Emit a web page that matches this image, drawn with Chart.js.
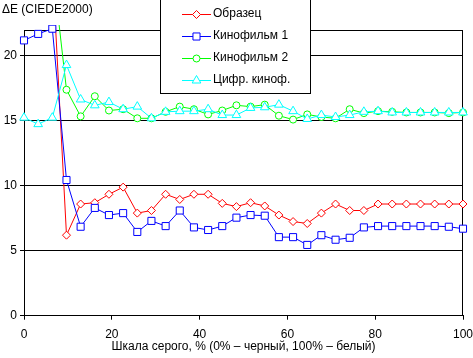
<!DOCTYPE html>
<html>
<head>
<meta charset="utf-8">
<script src="https://cdn.jsdelivr.net/npm/chart.js@4"></script>
<style>
  html, body { margin: 0; padding: 0; background: #fff; }
  canvas { display: block; }
</style>
</head>
<body>
<canvas id="chart" width="473" height="358"></canvas>
<script>
// --- Datos ---
const gray = [0, 3.23, 6.45, 9.68, 12.9, 16.13, 19.35, 22.58, 25.81, 29.03, 32.26, 35.48, 38.71, 41.94, 45.16, 48.39,
              51.61, 54.84, 58.06, 61.29, 64.52, 67.74, 70.97, 74.19, 77.42, 80.65, 83.87, 87.1, 90.32, 93.55, 96.77, 100];
const obrazets = [null, null, 27, 6.2, 8.6, 8.7, 9.35, 9.9, 7.9, 8.1, 9.35, 8.95, 9.35, 9.35, 8.65, 8.4,
                  8.7, 8.45, 7.75, 7.25, 7.1, 7.9, 8.6, 8.1, 8.1, 8.6, 8.6, 8.6, 8.6, 8.6, 8.6, 8.6];
const film1 = [21.2, 21.7, 22.1, 10.45, 6.85, 8.3, 7.75, 7.9, 6.45, 7.3, 6.9, 8.1, 6.8, 6.6, 6.9, 7.55,
               7.75, 7.7, 6.05, 6.05, 5.45, 6.2, 5.85, 6.0, 6.8, 6.9, 6.9, 6.9, 6.9, 6.9, 6.85, 6.7];
const film2 = [null, null, 27, 17.4, 15.35, 16.9, 15.8, 15.9, 15.2, 15.2, 15.7, 16.1, 15.9, 15.5, 15.8, 16.2,
               16.1, 16.25, 15.4, 15.1, 15.5, 15.3, 15.2, 15.9, 15.6, 15.75, 15.7, 15.65, 15.65, 15.65, 15.6, 15.65];
const digital = [15.25, 14.75, 15.25, 19.3, 16.65, 16.2, 16.45, 15.9, 16.1, 15.2, 15.7, 15.75, 15.75, 15.9, 15.45, 15.45,
                 16.0, 16.05, 16.25, 15.75, 15.15, 15.45, 15.3, 15.45, 15.7, 15.75, 15.65, 15.65, 15.65, 15.65, 15.65, 15.65];
const xTicks = [0, 20, 40, 60, 80, 100];
const yTicks = [0, 5, 10, 15, 20];

const FONT = { family: "'Liberation Sans', Arial, sans-serif", size: 12 };
const pts = vals => gray.map((x, i) => ({ x, y: vals[i] }));

const series = [
  { label: "Образец",      vals: obrazets, color: "#ff0000", style: "rectRot",  r: 4,   order: 3 },
  { label: "Кинофильм 1",  vals: film1,    color: "#0000ff", style: "rect",     r: 5,   order: 2 },
  { label: "Кинофильм 2",  vals: film2,    color: "#00ff00", style: "circle",   r: 3.5, order: 1 },
  { label: "Цифр. киноф.", vals: digital,  color: "#00ffff", style: "triangle", r: 5,   order: 0 }
];

// --- Marcador a mano para la leyenda ---
function marker(ctx, s, x, y) {
  ctx.beginPath();
  if (s.style === "rect") {
    const h = s.r * Math.SQRT1_2;
    ctx.rect(x - h, y - h, 2 * h, 2 * h);
  } else if (s.style === "rectRot") {
    ctx.moveTo(x, y - s.r); ctx.lineTo(x + s.r, y); ctx.lineTo(x, y + s.r); ctx.lineTo(x - s.r, y); ctx.closePath();
  } else if (s.style === "circle") {
    ctx.arc(x, y, s.r, 0, Math.PI * 2);
  } else {
    let a = 0;
    ctx.moveTo(x + Math.sin(a) * s.r, y - Math.cos(a) * s.r);
    a += Math.PI * 2 / 3; ctx.lineTo(x + Math.sin(a) * s.r, y - Math.cos(a) * s.r);
    a += Math.PI * 2 / 3; ctx.lineTo(x + Math.sin(a) * s.r, y - Math.cos(a) * s.r);
    ctx.closePath();
  }
  ctx.fillStyle = "#fff"; ctx.fill();
  ctx.strokeStyle = s.color; ctx.lineWidth = 1; ctx.stroke();
}

// --- Marco, título del eje Y y leyenda ---
const extras = {
  id: "extras",
  beforeDatasetsDraw(chart) {
    const { ctx, chartArea: a } = chart;
    ctx.save();
    ctx.strokeStyle = "#000"; ctx.lineWidth = 1;
    ctx.strokeRect(Math.round(a.left) + 0.5, Math.round(a.top) + 0.5,
                   Math.round(a.right - a.left) - 1, Math.round(a.bottom - a.top) - 1);
    ctx.restore();
  },
  afterDraw(chart) {
    const { ctx } = chart;
    ctx.save();
    ctx.font = `${FONT.size}px ${FONT.family}`;
    ctx.fillStyle = "#000";
    ctx.textBaseline = "middle";
    ctx.textAlign = "left";
    ctx.fillText("ΔE (CIEDE2000)", 2, 10);

    // leyenda
    ctx.fillStyle = "#fff";
    ctx.fillRect(160, -1, 150, 94);
    ctx.strokeStyle = "#000"; ctx.lineWidth = 1;
    ctx.strokeRect(160.5, -1.5, 150, 95);
    series.forEach((s, i) => {
      const y = 13.5 + i * 22.2;
      const yy = Math.round(y) + 0.5;
      ctx.strokeStyle = s.color;
      ctx.beginPath(); ctx.moveTo(182, yy); ctx.lineTo(211, yy); ctx.stroke();
      marker(ctx, s, 196.5, yy);
      ctx.fillStyle = "#000";
      ctx.fillText(s.label, 213, y);
    });
    ctx.restore();
  }
};

// --- Init ---
new Chart(document.getElementById("chart"), {
  type: "line",
  data: {
    datasets: series.map(s => ({
      label: s.label,
      data: pts(s.vals),
      borderColor: s.color,
      backgroundColor: "#fff",
      borderWidth: 1,
      pointStyle: s.style,
      pointRadius: s.r,
      pointBorderWidth: 1,
      pointBackgroundColor: "#fff",
      pointBorderColor: s.color,
      tension: 0,
      order: s.order,
      clip: { left: 8, top: 5, right: 8, bottom: 8 }
    }))
  },
  options: {
    responsive: false,
    animation: false,
    devicePixelRatio: 1,
    layout: { padding: { top: 30, right: 10, left: 0, bottom: 0 } },
    plugins: { legend: { display: false }, tooltip: { enabled: false } },
    scales: {
      x: {
        type: "linear", min: 0, max: 100,
        afterBuildTicks: s => { s.ticks = xTicks.map(v => ({ value: v })); },
        afterFit: s => { s.height = 42.3; s.paddingLeft = 0; s.paddingRight = 0; },
        ticks: { font: FONT, color: "#000", padding: 8, maxRotation: 0 },
        grid: { drawOnChartArea: false, color: "#000", tickLength: 4 },
        border: { color: "#000" },
        title: {
          display: true, text: "Шкала серого, % (0% – черный, 100% – белый)",
          font: FONT, color: "#000", padding: { top: 0, bottom: 4 }
        }
      },
      y: {
        min: 0, max: 22,
        afterBuildTicks: s => { s.ticks = yTicks.map(v => ({ value: v })); },
        afterFit: s => { s.width = 24; },
        ticks: { font: FONT, color: "#000", padding: 3 },
        grid: { color: "#000", tickLength: 4 },
        border: { color: "#000" }
      }
    }
  },
  plugins: [extras]
});
</script>
</body>
</html>
